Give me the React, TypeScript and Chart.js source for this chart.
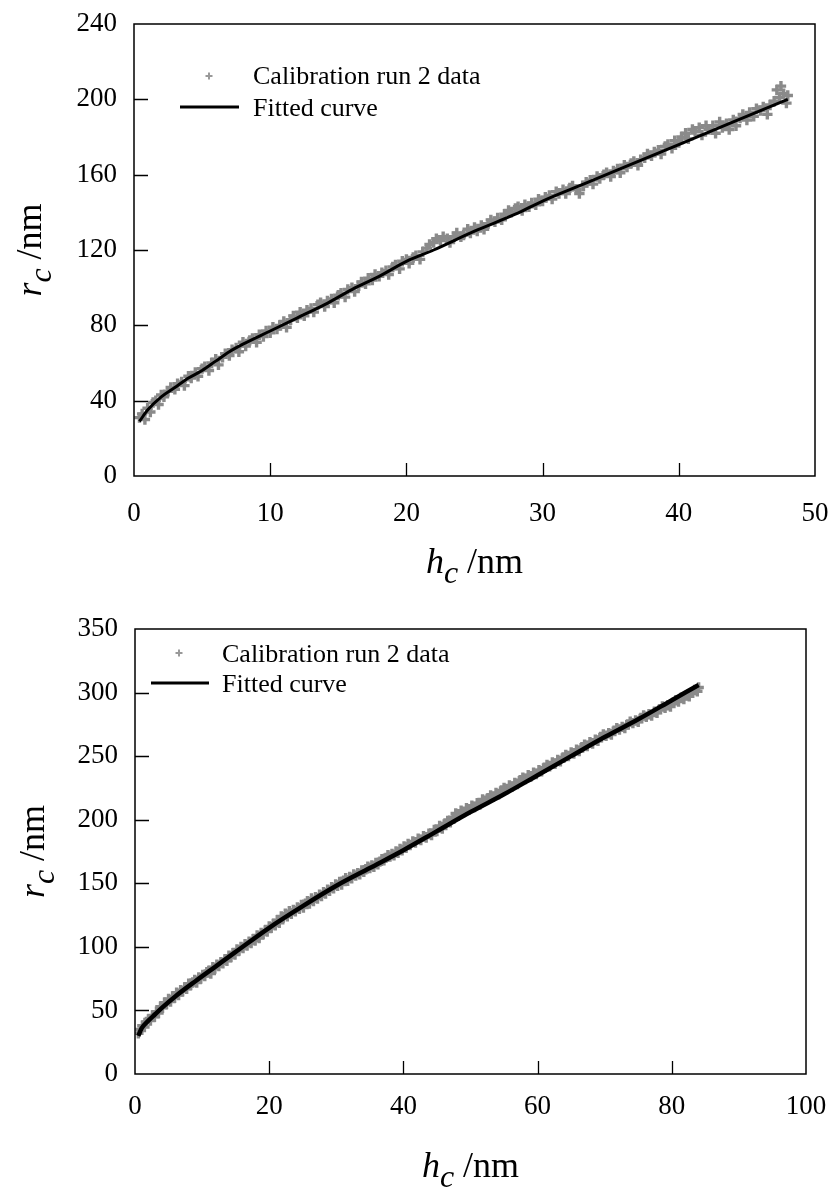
import React, { useEffect, useRef } from 'react';
import { Chart, registerables } from 'chart.js';

Chart.register(...registerables);

const SERIF = '"Liberation Serif", "Times New Roman", serif';

// ---------- Panel 1 (run 2, up to 48 nm) ----------
const topXTicks = [0, 10, 20, 30, 40, 50];
const topYTicks = [0, 40, 80, 120, 160, 200, 240];

const topData: [number, number][] = [
  [0.4,31],[0.6,33],[0.8,30],[1.0,36],[1.2,34],[1.4,39],[1.6,40],[1.8,38],[2.0,43],[2.2,42],
  [2.5,45],[2.7,47],[3.0,46],[3.2,49],[3.5,50],[3.7,48],[4.0,53],[4.2,52],[4.5,55],[4.7,53],
  [5.0,57],[5.2,58],[5.5,56],[5.7,60],[6.0,62],[6.2,59],[6.5,63],[6.7,65],[7.0,64],[7.2,67],
  [7.5,68],[7.7,66],[8.0,71],[8.2,69],[8.5,72],[8.7,73],[9.0,71],[9.2,75],[9.5,74],[9.7,77],
  [10.0,76],[10.2,79],[10.5,78],[10.7,80],[11.0,82],[11.2,79],[11.5,83],[11.7,85],[12.0,84],[12.2,87],
  [12.5,85],[12.7,88],[13.0,89],[13.2,87],[13.5,91],[13.7,92],[14.0,90],[14.2,93],[14.5,94],[14.7,92],
  [15.0,96],[15.2,97],[15.5,95],[15.7,99],[16.0,100],[16.2,98],[16.5,101],[16.7,103],[17.0,102],[17.2,105],
  [17.5,104],[17.7,107],[18.0,106],[18.2,108],[18.5,109],[18.7,107],[19.0,111],[19.2,112],[19.5,110],[19.7,114],
  [20.0,115],[20.2,113],[20.5,116],[20.7,117],[21.0,115],[21.2,119],[21.5,121],[21.7,123],[22.0,124],[22.2,126],
  [22.5,125],[22.7,127],[23.0,126],[23.2,124],[23.5,127],[23.7,129],[24.0,127],[24.2,128],[24.5,131],[24.7,129],
  [25.0,132],[25.2,130],[25.5,133],[25.7,131],[26.0,134],[26.2,136],[26.5,135],[26.7,137],[27.0,136],[27.2,139],
  [27.5,141],[27.7,140],[28.0,142],[28.2,143],[28.5,141],[28.7,144],[29.0,143],[29.2,145],[29.5,144],[29.7,147],
  [30.0,146],[30.2,148],[30.5,149],[30.7,147],[31.0,151],[31.2,150],[31.5,152],[31.7,150],[32.0,153],[32.2,154],
  [32.5,152],[32.7,150],[33.0,154],[33.2,156],[33.5,157],[33.7,155],[34.0,159],[34.2,158],[34.5,160],[34.7,161],
  [35.0,159],[35.2,162],[35.5,163],[35.7,161],[36.0,165],[36.2,164],[36.5,166],[36.7,167],[37.0,165],[37.2,168],
  [37.5,169],[37.7,171],[38.0,170],[38.2,172],[38.5,173],[38.7,171],[39.0,175],[39.2,176],[39.5,174],[39.7,178],
  [40.0,177],[40.2,180],[40.5,182],[40.7,179],[41.0,184],[41.2,183],[41.5,185],[41.7,181],[42.0,186],[42.2,184],
  [42.5,186],[42.7,182],[43.0,188],[43.2,185],[43.5,187],[43.7,184],[44.0,189],[44.2,186],[44.5,190],[44.7,192],
  [45.0,189],[45.2,193],[45.5,191],[45.7,195],[46.0,194],[46.2,196],[46.5,192],[46.7,197],[47.0,199],[47.2,205],
  [47.4,201],[47.5,207],[47.7,203],[47.9,198],[48.0,202],
];

const topFitH = [0.4, 1, 2, 3, 4, 5, 6, 7, 8, 10, 12, 14, 16, 18, 20, 22, 25, 28, 30, 33, 36, 40, 44, 48];
const topFitR = [29, 35, 42, 47, 52, 56, 61, 66, 70, 77, 84, 91, 99, 106, 114, 120, 130, 139, 146, 155, 164, 176, 188, 200];

// ---------- Panel 2 (run 2, up to 84 nm) ----------
const botXTicks = [0, 20, 40, 60, 80, 100];
const botYTicks = [0, 50, 100, 150, 200, 250, 300, 350];

const botData: [number, number][] = [
  [0.5,32],[0.8,35],[1.1,38],[1.4,37],[1.7,41],[2.0,43],[2.3,42],[2.6,46],[2.9,45],[3.2,49],
  [3.5,48],[3.8,53],[4.1,52],[4.4,56],[4.7,55],[5.0,59],[5.3,57],[5.6,61],[5.9,60],[6.2,64],
  [6.5,62],[6.8,66],[7.1,65],[7.4,68],[7.7,67],[8.0,71],[8.3,70],[8.6,72],[8.9,74],[9.2,72],
  [9.5,76],[9.8,75],[10.1,78],[10.4,77],[10.7,80],[11.0,81],[11.3,79],[11.6,84],[11.9,83],[12.2,86],
  [12.5,85],[12.8,88],[13.1,87],[13.4,90],[13.7,89],[14.0,93],[14.3,92],[14.6,95],[14.9,94],[15.2,98],
  [15.5,97],[15.8,100],[16.1,99],[16.4,102],[16.7,101],[17.0,104],[17.3,103],[17.6,106],[17.9,105],[18.2,109],
  [18.5,107],[18.8,111],[19.1,110],[19.4,113],[19.7,112],[20.0,116],[20.3,115],[20.6,118],[20.9,117],[21.2,121],
  [21.5,119],[21.8,124],[22.1,123],[22.4,126],[22.7,124],[23.0,128],[23.3,126],[23.6,129],[23.9,128],[24.2,131],
  [24.5,130],[24.8,133],[25.1,131],[25.4,134],[25.7,136],[26.0,134],[26.3,138],[26.6,136],[26.9,139],[27.2,138],
  [27.5,141],[27.8,140],[28.1,143],[28.4,142],[28.7,145],[29.0,144],[29.3,147],[29.6,146],[29.9,149],[30.2,148],
  [30.5,151],[30.8,149],[31.1,152],[31.4,154],[31.7,152],[32.0,155],[32.3,154],[32.6,157],[32.9,156],[33.2,158],
  [33.5,157],[33.8,160],[34.1,159],[34.4,161],[34.7,163],[35.0,162],[35.3,164],[35.6,163],[35.9,166],[36.2,165],
  [36.5,167],[36.8,169],[37.1,168],[37.4,170],[37.7,172],[38.0,171],[38.3,173],[38.6,172],[38.9,175],[39.2,174],
  [39.5,177],[39.8,176],[40.1,179],[40.4,178],[40.7,181],[41.0,180],[41.4,183],[41.8,182],[42.2,185],[42.6,184],
  [43.0,187],[43.4,186],[43.8,189],[44.2,188],[44.6,192],[45.0,191],[45.4,195],[45.8,193],[46.2,197],[46.6,199],
  [47.0,198],[47.4,202],[47.8,205],[48.2,203],[48.6,207],[49.0,206],[49.4,209],[49.8,208],[50.2,211],[50.6,210],
  [51.0,213],[51.4,212],[51.8,216],[52.2,215],[52.6,217],[53.0,219],[53.4,218],[53.8,221],[54.2,220],[54.6,223],
  [55.0,225],[55.4,224],[55.8,227],[56.2,226],[56.6,229],[57.0,228],[57.4,231],[57.8,233],[58.2,232],[58.6,235],
  [59.0,234],[59.4,237],[59.8,236],[60.2,239],[60.6,238],[61.0,241],[61.4,243],[61.8,242],[62.2,245],[62.6,244],
  [63.0,247],[63.4,246],[63.8,249],[64.2,251],[64.6,250],[65.0,253],[65.4,252],[65.8,255],[66.2,254],[66.6,257],
  [67.0,259],[67.4,258],[67.8,261],[68.2,260],[68.6,263],[69.0,262],[69.4,265],[69.8,267],[70.2,266],[70.6,268],
  [71.0,267],[71.4,270],[71.8,272],[72.2,271],[72.6,273],[73.0,272],[73.4,275],[73.8,277],[74.2,276],[74.6,278],
  [75.0,277],[75.4,280],[75.8,282],[76.2,281],[76.6,283],[77.0,282],[77.4,285],[77.8,284],[78.2,287],[78.6,289],
  [79.0,288],[79.4,290],[79.8,289],[80.2,292],[80.6,294],[81.0,293],[81.4,296],[81.8,295],[82.2,298],[82.6,297],
  [83.0,300],[83.4,302],[83.8,301],[84.0,304],
];

const botFitH = [0.5, 1, 2, 3, 4, 6, 9, 12, 15, 20, 25, 30, 35, 40, 45, 50, 55, 60, 65, 70, 75, 80, 84];
const botFitR = [30, 36, 42, 47, 52, 61, 73, 84.5, 96, 115, 132, 148, 162, 176, 191, 206, 220, 235, 250, 265, 279, 294, 306];

const legendScatterLabel = 'Calibration run 2 data';
const legendLineLabel = 'Fitted curve';

type PanelCfg = {
  data: [number, number][];
  fitH: number[];
  fitR: number[];
  xTicks: number[];
  yTicks: number[];
  xStep: number;
  yStep: number;
  pad: { left: number; right: number; top: number; bottom: number };
  yAxisWidth: number;
  xAxisHeight: number;
  xLabelPad: number;
  fitWidth: number;
  xTitleBaseline: number;
  yTitleBaseline: number;
  legend: { mx: number; my: number; tx: number; b1: number; b2: number; lx1: number; lx2: number; ly: number };
};

function drawTitle(ctx: CanvasRenderingContext2D, main: string, sub: string, rest: string, cx: number, base: number) {
  const fMain = `italic 36px ${SERIF}`;
  const fSub = `italic 32px ${SERIF}`;
  const fRest = `36px ${SERIF}`;
  ctx.font = fMain;
  const w1 = ctx.measureText(main).width;
  ctx.font = fSub;
  const w2 = ctx.measureText(sub).width;
  ctx.font = fRest;
  const w3 = ctx.measureText(rest).width;
  let x = cx - (w1 + w2 + w3) / 2;
  ctx.textBaseline = 'alphabetic';
  ctx.textAlign = 'left';
  ctx.fillStyle = '#000';
  ctx.font = fMain;
  ctx.fillText(main, x, base);
  x += w1;
  ctx.font = fSub;
  ctx.fillText(sub, x, base + 10);
  x += w2;
  ctx.font = fRest;
  ctx.fillText(rest, x, base);
}

function makeDecor(cfg: PanelCfg) {
  return {
    id: 'decor',
    afterDraw(chart: any) {
      const { ctx, chartArea: a, scales } = chart;
      const xs = scales.x;
      const ys = scales.y;
      ctx.save();
      // frame
      ctx.strokeStyle = '#000';
      ctx.lineWidth = 1.5;
      ctx.strokeRect(a.left, a.top, a.right - a.left, a.bottom - a.top);
      // inward ticks
      ctx.beginPath();
      cfg.yTicks.forEach((v) => {
        if (v === cfg.yTicks[0] || v === cfg.yTicks[cfg.yTicks.length - 1]) return;
        const y = Math.round(ys.getPixelForValue(v)) + 0.5;
        ctx.moveTo(a.left, y);
        ctx.lineTo(a.left + 14, y);
      });
      cfg.xTicks.forEach((v) => {
        if (v === cfg.xTicks[0] || v === cfg.xTicks[cfg.xTicks.length - 1]) return;
        const x = Math.round(xs.getPixelForValue(v)) + 0.5;
        ctx.moveTo(x, a.bottom);
        ctx.lineTo(x, a.bottom - 13);
      });
      ctx.lineWidth = 1.3;
      ctx.stroke();
      // axis titles
      drawTitle(ctx, 'h', 'c', ' /nm', (a.left + a.right) / 2, cfg.xTitleBaseline);
      ctx.save();
      ctx.translate(cfg.yTitleBaseline, (a.top + a.bottom) / 2);
      ctx.rotate(-Math.PI / 2);
      drawTitle(ctx, 'r', 'c', ' /nm', 0, 0);
      ctx.restore();
      // legend
      const L = cfg.legend;
      ctx.strokeStyle = '#999';
      ctx.lineWidth = 2;
      ctx.beginPath();
      ctx.moveTo(L.mx - 3.5, L.my);
      ctx.lineTo(L.mx + 3.5, L.my);
      ctx.moveTo(L.mx, L.my - 3.5);
      ctx.lineTo(L.mx, L.my + 3.5);
      ctx.stroke();
      ctx.strokeStyle = '#000';
      ctx.lineWidth = 3;
      ctx.beginPath();
      ctx.moveTo(L.lx1, L.ly);
      ctx.lineTo(L.lx2, L.ly);
      ctx.stroke();
      ctx.fillStyle = '#000';
      ctx.font = `26px ${SERIF}`;
      ctx.textAlign = 'left';
      ctx.textBaseline = 'alphabetic';
      ctx.fillText(legendScatterLabel, L.tx, L.b1);
      ctx.fillText(legendLineLabel, L.tx, L.b2);
      ctx.restore();
    },
  };
}

function Panel({ cfg, width, height }: { cfg: PanelCfg; width: number; height: number }) {
  const ref = useRef<HTMLCanvasElement | null>(null);
  useEffect(() => {
    if (!ref.current) return;
    const tickFont = { family: SERIF, size: 27 };
    const chart = new Chart(ref.current, {
      type: 'scatter',
      data: {
        datasets: [
          {
            label: legendLineLabel,
            data: cfg.fitH.map((h, i) => ({ x: h, y: cfg.fitR[i] })),
            showLine: true,
            borderColor: '#000',
            backgroundColor: '#000',
            borderWidth: cfg.fitWidth,
            pointRadius: 0,
            cubicInterpolationMode: 'monotone',
          } as any,
          {
            label: legendScatterLabel,
            data: cfg.data.map(([h, r]) => ({ x: h, y: r })),
            showLine: false,
            pointStyle: 'cross',
            pointRadius: 5.2,
            borderWidth: 3.4,
            borderColor: '#8a8a8a',
            backgroundColor: '#8a8a8a',
          } as any,
        ],
      },
      options: {
        responsive: false,
        animation: false,
        events: [],
        layout: { padding: cfg.pad },
        plugins: { legend: { display: false }, tooltip: { enabled: false } },
        scales: {
          x: {
            type: 'linear',
            min: cfg.xTicks[0],
            max: cfg.xTicks[cfg.xTicks.length - 1],
            grid: { display: false },
            border: { display: false },
            ticks: { stepSize: cfg.xStep, color: '#000', font: tickFont, padding: cfg.xLabelPad, maxRotation: 0 },
            afterFit: (s: any) => {
              s.height = cfg.xAxisHeight;
              s.paddingLeft = 0;
              s.paddingRight = 0;
            },
          },
          y: {
            type: 'linear',
            min: cfg.yTicks[0],
            max: cfg.yTicks[cfg.yTicks.length - 1],
            grid: { display: false },
            border: { display: false },
            ticks: { stepSize: cfg.yStep, color: '#000', font: tickFont, padding: 9 },
            afterFit: (s: any) => {
              s.width = cfg.yAxisWidth;
              s.paddingTop = 0;
              s.paddingBottom = 0;
            },
          },
        },
      } as any,
      plugins: [makeDecor(cfg)],
    });
    return () => chart.destroy();
  }, [cfg]);
  return <canvas ref={ref} width={width} height={height} style={{ display: 'block', width, height }} />;
}

const topCfg: PanelCfg = {
  data: topData,
  fitH: topFitH,
  fitR: topFitR,
  xTicks: topXTicks,
  yTicks: topYTicks,
  xStep: 10,
  yStep: 40,
  pad: { left: 0, right: 19, top: 24, bottom: 50 },
  yAxisWidth: 134,
  xAxisHeight: 70,
  xLabelPad: 14,
  fitWidth: 3,
  xTitleBaseline: 573,
  yTitleBaseline: 41,
  legend: { mx: 209, my: 76, tx: 253, b1: 84, b2: 116, lx1: 180, lx2: 239, ly: 107 },
};

const botCfg: PanelCfg = {
  data: botData,
  fitH: botFitH,
  fitR: botFitR,
  xTicks: botXTicks,
  yTicks: botYTicks,
  xStep: 20,
  yStep: 50,
  pad: { left: 0, right: 28, top: 33, bottom: 48 },
  yAxisWidth: 135,
  xAxisHeight: 70,
  xLabelPad: 9,
  fitWidth: 4.5,
  xTitleBaseline: 581,
  yTitleBaseline: 44,
  legend: { mx: 179, my: 57, tx: 222, b1: 66, b2: 96, lx1: 151, lx2: 209, ly: 87 },
};

export default function App() {
  return (
    <div style={{ position: 'absolute', left: 0, top: 0, width: 834, height: 1192, background: '#fff' }}>
      <Panel cfg={topCfg} width={834} height={596} />
      <Panel cfg={botCfg} width={834} height={596} />
    </div>
  );
}
